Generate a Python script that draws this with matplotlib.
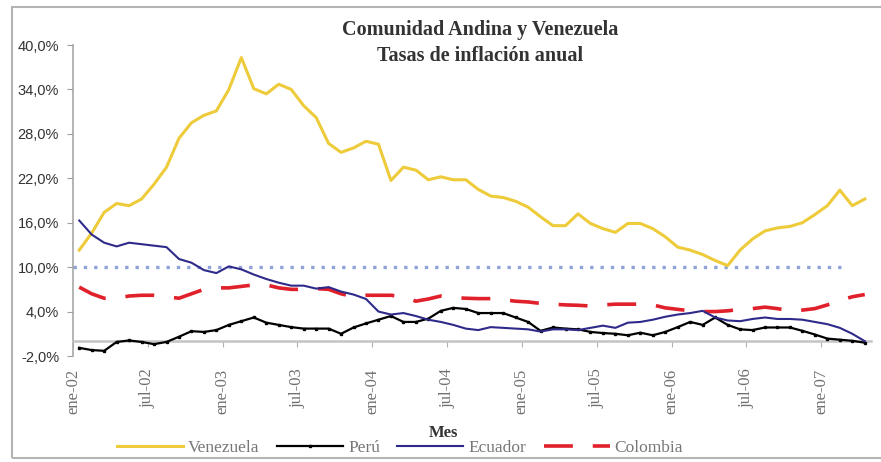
import matplotlib
matplotlib.use('Agg')
import matplotlib.pyplot as plt
from matplotlib.patches import Rectangle
import numpy as np

# Tasas de inflación anual (%), ene-02 a abr-07
venezuela = [12.3, 14.6, 17.4, 18.6, 18.3, 19.2, 21.2, 23.5, 27.4, 29.5,
             30.5, 31.1, 34.0, 38.3, 34.1, 33.4, 34.7, 34.0, 31.8, 30.2,
             26.7, 25.5, 26.1, 27.0, 26.6, 21.7, 23.5, 23.1, 21.8, 22.2,
             21.8, 21.8, 20.5, 19.6, 19.4, 18.9, 18.1, 16.8, 15.6, 15.6,
             17.2, 15.9, 15.2, 14.7, 15.9, 15.9, 15.2, 14.1, 12.7, 12.3,
             11.7, 10.9, 10.2, 12.3, 13.8, 14.9, 15.3, 15.5, 16.0, 17.1,
             18.3, 20.4, 18.3, 19.2]
peru = [-0.9, -1.2, -1.3, -0.1, 0.1, -0.1, -0.4, -0.1, 0.6, 1.35,
        1.25, 1.5, 2.2, 2.7, 3.2, 2.5, 2.2, 1.9, 1.7, 1.7,
        1.7, 1.0, 1.85, 2.4, 2.9, 3.4, 2.6, 2.6, 3.05, 4.1,
        4.5, 4.35, 3.8, 3.8, 3.8, 3.2, 2.6, 1.4, 1.85, 1.7,
        1.6, 1.25, 1.1, 1.0, 0.8, 1.15, 0.8, 1.25, 1.9, 2.6,
        2.2, 3.2, 2.2, 1.6, 1.5, 1.85, 1.85, 1.85, 1.4, 0.9,
        0.35, 0.2, 0.05, -0.2]
ecuador = [16.3, 14.4, 13.3, 12.8, 13.3, 13.1, 12.9, 12.7, 11.1, 10.6,
           9.6, 9.2, 10.1, 9.7, 9.0, 8.4, 7.9, 7.5, 7.5, 7.1,
           7.3, 6.7, 6.3, 5.7, 4.0, 3.6, 3.8, 3.4, 2.9, 2.6,
           2.2, 1.7, 1.5, 1.9, 1.8, 1.7, 1.6, 1.3, 1.6, 1.6,
           1.5, 1.8, 2.1, 1.8, 2.5, 2.6, 2.9, 3.3, 3.6, 3.8,
           4.1, 3.2, 2.8, 2.7, 3.0, 3.2, 3.0, 3.0, 2.9, 2.6,
           2.3, 1.8, 1.0, 0.0]
colombia = [7.3, 6.4, 5.8, 5.8, 6.1, 6.2, 6.2, 6.0, 5.8, 6.4,
            7.0, 7.2, 7.2, 7.4, 7.6, 7.6, 7.2, 7.0, 7.0, 7.1,
            7.0, 6.4, 6.0, 6.2, 6.2, 6.2, 6.0, 5.4, 5.7, 6.1,
            5.9, 5.8, 5.75, 5.75, 5.6, 5.4, 5.3, 5.1, 5.0, 4.9,
            4.85, 4.75, 4.9, 5.0, 5.0, 5.0, 4.9, 4.5, 4.3, 4.1,
            4.0, 4.0, 4.1, 4.3, 4.4, 4.6, 4.4, 4.1, 4.2, 4.4,
            4.9, 5.5, 6.0, 6.3]
meta = 10.0
etiquetas = ['ene-02', 'jul-02', 'ene-03', 'jul-03', 'ene-04', 'jul-04',
             'ene-05', 'jul-05', 'ene-06', 'jul-06', 'ene-07']
yticks = [-2, 4, 10, 16, 22, 28, 34, 40]

serif = 'Liberation Serif'
sans = 'Liberation Sans'

fig = plt.figure(figsize=(8.81, 4.62), dpi=100)
ax = fig.add_axes([73 / 881, 1 - 356 / 462, 798 / 881, 311 / 462])

n = len(venezuela)
x = np.arange(n) + 0.5

ax.plot(np.arange(n - 1), [meta] * (n - 1), color='#8FA3D9', lw=2.4,
        linestyle=(0, (1, 2.1)), zorder=2)
ax.plot(x, venezuela, color='#EDCB3A', lw=2.2, label='Venezuela', zorder=3)
ax.plot(x, peru, color='black', lw=1.6, marker='s', ms=1.7, label='Perú', zorder=4)
ax.plot(x, ecuador, color='#2E2A8A', lw=1.5, label='Ecuador', zorder=4)
ax.plot(x, colombia, color='#E0202A', lw=2.6, dashes=(8, 5.5),
        label='Colombia', zorder=3)

ax.set_xlim(0, n)
ax.set_ylim(-2, 40)

# eje y
ax.set_yticks(yticks)
ax.set_yticklabels([f'{v:.1f}%'.replace('.', ',') for v in yticks],
                   fontfamily=sans, fontsize=10.5, color='#333333')
ax.tick_params(axis='y', length=4, color='#a0a0a0', pad=6)

# eje x cruza en 0, etiquetas abajo
ax.spines['top'].set_visible(False)
ax.spines['right'].set_visible(False)
ax.spines['left'].set_color('#a8a8a8')
ax.spines['left'].set_linewidth(1.2)
ax.spines['bottom'].set_position(('data', 0))
ax.spines['bottom'].set_color('#c4c4c4')
ax.spines['bottom'].set_linewidth(1.8)
tick_pos = np.arange(0, n - 3, 6)
ax.set_xticks(tick_pos)
ax.tick_params(axis='x', length=4, color='#b0b0b0', labelbottom=False)

sec = ax.secondary_xaxis('bottom')
sec.set_xticks(tick_pos)
sec.set_xticklabels(etiquetas, rotation=90, fontfamily=serif, fontsize=12,
                    color='#707070')
sec.tick_params(length=0, pad=9)
sec.spines['bottom'].set_visible(False)

# títulos
fig.text(480 / 881, 1 - 30 / 462, 'Comunidad Andina y Venezuela', ha='center',
         va='center', fontfamily=serif, fontweight='bold', fontsize=14.5,
         color='#333333')
fig.text(480 / 881, 1 - 56 / 462, 'Tasas de inflación anual', ha='center',
         va='center', fontfamily=serif, fontweight='bold', fontsize=14.5,
         color='#333333')
fig.text(443 / 881, 1 - 433 / 462, 'Mes', ha='center', va='center',
         fontfamily=serif, fontweight='bold', fontsize=12, color='#333333')

leg = fig.legend(loc='center', bbox_to_anchor=(400 / 881, 1 - 448 / 462), ncol=4,
                 frameon=False, handlelength=3.8, handletextpad=0.3,
                 columnspacing=1.0, prop={'family': serif, 'size': 12.5})
for t in leg.get_texts():
    t.set_color('#777777')

# marco exterior
fig.patches.append(Rectangle((12 / 881, 1 - 458 / 462), 1.0, (458 - 7) / 462,
                             transform=fig.transFigure, fill=False,
                             edgecolor='#b4b4b4', lw=1.5))

fig.savefig('out.png', dpi=100)
